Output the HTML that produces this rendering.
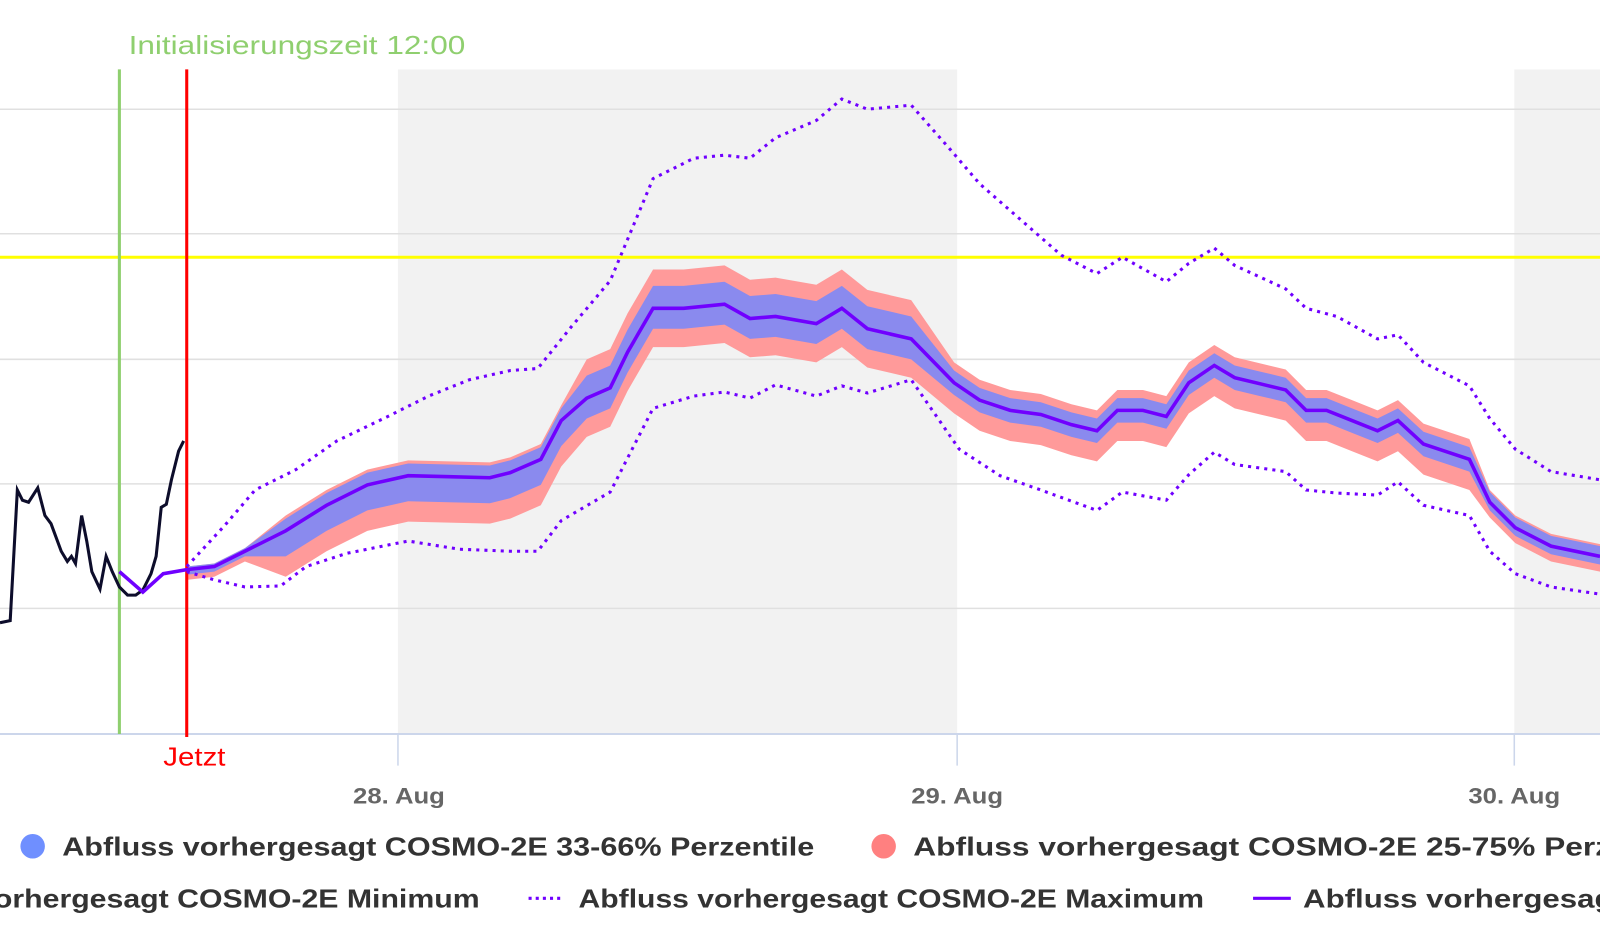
<!DOCTYPE html>
<html><head><meta charset="utf-8"><style>html,body{margin:0;padding:0;background:#fff;overflow:hidden}svg{display:block}</style></head>
<body>
<svg id="s" width="1600" height="932" viewBox="0 0 1568 913" preserveAspectRatio="none" xmlns="http://www.w3.org/2000/svg" font-family="Liberation Sans, sans-serif">
<rect x="390" y="68" width="548" height="651" fill="#f2f2f2"/>
<rect x="1484" y="68" width="84" height="651" fill="#f2f2f2"/>
<g stroke="#e0e0e0" stroke-width="1.5">
<line x1="0" y1="107" x2="1568" y2="107"/><line x1="0" y1="229" x2="1568" y2="229"/>
<line x1="0" y1="352" x2="1568" y2="352"/><line x1="0" y1="474" x2="1568" y2="474"/>
<line x1="0" y1="596" x2="1568" y2="596"/></g>
<line x1="0" y1="719" x2="1568" y2="719" stroke="#ccd6eb" stroke-width="2"/>
<g stroke="#ccd6eb" stroke-width="1.5"><line x1="390" y1="719" x2="390" y2="750"/><line x1="938" y1="719" x2="938" y2="750"/><line x1="1484" y1="719" x2="1484" y2="750"/></g>
<g id="bands"></g>
<line x1="0" y1="252" x2="1568" y2="252" stroke="#ffff00" stroke-width="3"/>
<line x1="117" y1="68" x2="117" y2="719" stroke="#8fcf6f" stroke-width="3"/>
<line x1="183" y1="68" x2="183" y2="722" stroke="#ff0000" stroke-width="3"/>
<g id="lines"></g>
<text x="126" y="53" fill="#8fcf6f" font-size="25" textLength="330" lengthAdjust="spacingAndGlyphs">Initialisierungszeit 12:00</text>
<text x="160" y="750" fill="#ff0000" font-size="25" textLength="61" lengthAdjust="spacingAndGlyphs">Jetzt</text>
<g fill="#666" font-size="22" font-weight="bold">
<text x="346" y="787" textLength="90" lengthAdjust="spacingAndGlyphs">28. Aug</text><text x="893" y="787" textLength="90" lengthAdjust="spacingAndGlyphs">29. Aug</text><text x="1439" y="787" textLength="90" lengthAdjust="spacingAndGlyphs">30. Aug</text></g>
<circle cx="32" cy="829" r="12" fill="#6f8fff"/>
<circle cx="866" cy="829" r="12" fill="#ff8080"/>
<g fill="#333" font-size="25" font-weight="bold">
<text x="61" y="838" textLength="737" lengthAdjust="spacingAndGlyphs">Abfluss vorhergesagt COSMO-2E 33-66% Perzentile</text>
<text x="895" y="838" textLength="765" lengthAdjust="spacingAndGlyphs">Abfluss vorhergesagt COSMO-2E 25-75% Perzentile</text>
<text x="-6" y="889" textLength="476" lengthAdjust="spacingAndGlyphs">orhergesagt COSMO-2E Minimum</text>
<text x="567" y="889" textLength="613" lengthAdjust="spacingAndGlyphs">Abfluss vorhergesagt COSMO-2E Maximum</text>
<text x="1277" y="889" textLength="600" lengthAdjust="spacingAndGlyphs">Abfluss vorhergesagt COSMO-2E Median</text>
</g>
<line x1="518" y1="880" x2="552" y2="880" stroke="#7000ff" stroke-width="3" stroke-dasharray="3,4"/>
<line x1="1228" y1="880" x2="1265" y2="880" stroke="#7000ff" stroke-width="3"/>
</svg>
<script>
var med=[[117,560],[140,580],[160,562],[183,558],[210,555],[240,540],[280,520],[320,495],[360,475],[400,466],[440,467],[480,468],[500,463],[530,450],[550,412],[575,390],[598,380],[615,345],[640,302],[670,302],[710,298],[735,312],[760,310],[800,317],[825,302],[850,322],[893,332],[935,375],[960,392],[990,402],[1020,406],[1050,416],[1075,422],[1095,402],[1120,402],[1143,408],[1165,375],[1190,358],[1210,370],[1235,376],[1260,382],[1280,402],[1300,402],[1325,412],[1350,422],[1370,412],[1395,435],[1440,450],[1460,492],[1485,517],[1520,535],[1568,545]];
var mx=[[183,555],[220,515],[250,480],[290,460],[330,432],[380,408],[420,388],[460,372],[500,363],[527,361],[560,320],[598,275],[640,175],[680,155],[710,152],[735,155],[760,135],[800,118],[825,97],[850,107],[893,103],[930,145],[960,180],[1000,215],[1040,250],[1075,268],[1100,252],[1143,276],[1165,258],[1190,243],[1210,260],[1260,283],[1280,302],[1310,310],[1350,332],[1370,328],[1395,355],[1440,378],[1460,410],[1485,440],[1520,462],[1568,470]];
var mn=[[183,560],[210,568],[240,575],[275,574],[300,555],[340,542],[400,530],[450,538],[500,540],[527,540],[550,510],[598,482],[640,400],[680,388],[710,384],[735,390],[760,377],[800,388],[825,378],[850,385],[893,372],[940,440],[980,466],[1020,480],[1075,500],[1100,482],[1143,490],[1165,465],[1190,443],[1210,455],[1260,462],[1280,480],[1310,483],[1350,485],[1370,472],[1395,495],[1440,505],[1460,540],[1485,562],[1520,575],[1568,582]];
var obs=[[0,610],[10,608],[17,480],[22,490],[28,492],[37,478],[44,505],[50,513],[60,540],[66,550],[70,545],[74,552],[80,505],[85,530],[90,560],[98,577],[104,545],[110,560],[117,575],[125,583],[133,583],[140,578],[148,562],[153,545],[158,497],[163,494],[168,470],[175,442],[180,432]];
function off(x){if(x<250)return[3,5,3,10];if(x<560)return[12,25,15,45];if(x<900)return[22,20,38,38];if(x<1460)return[12,12,20,30];return[10,8,12,15];}
function pts(a){return a.map(function(p){return p[0]+","+p[1]}).join(" ");}
var f=med.filter(function(p){return p[0]>=183});
function band(i,j,col){var top=f.map(function(p){return[p[0],p[1]-off(p[0])[i]]});var bot=f.map(function(p){return[p[0],p[1]+off(p[0])[j]]}).reverse();return '<polygon points="'+pts(top.concat(bot))+'" fill="'+col+'"/>';}
document.getElementById("bands").innerHTML=band(2,3,"#ff9a9a")+band(0,1,"#8a8aee");
document.getElementById("lines").innerHTML='<polyline points="'+pts(obs)+'" fill="none" stroke="#0d0d2b" stroke-width="3"/>'+
'<polyline points="'+pts(mx)+'" fill="none" stroke="#7000ff" stroke-width="3" stroke-dasharray="3,5"/>'+
'<polyline points="'+pts(mn)+'" fill="none" stroke="#7000ff" stroke-width="3" stroke-dasharray="3,5"/>'+
'<polyline points="'+pts(med)+'" fill="none" stroke="#7000ff" stroke-width="3.5"/>';
</script>
</body></html>
